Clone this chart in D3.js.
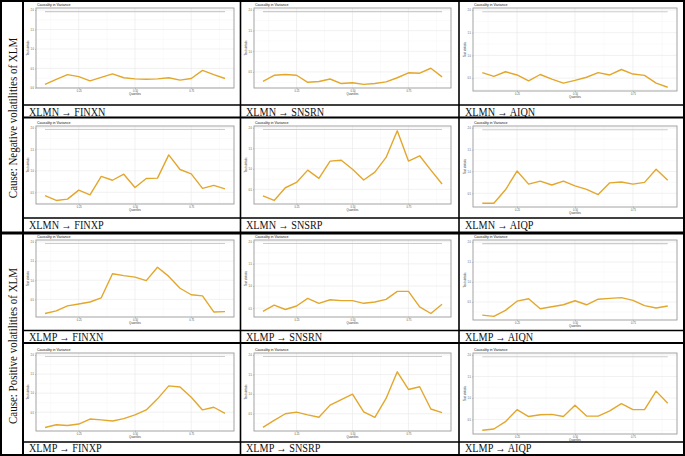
<!DOCTYPE html>
<html><head><meta charset="utf-8">
<script src="https://cdn.jsdelivr.net/npm/d3@7"></script>
<style>body{margin:0;background:#fff} svg{display:block}</style>
</head><body>
<svg id="c" width="685" height="456"></svg>
<script>
// ---------------- DATA ----------------
const quantiles = [0.10,0.15,0.20,0.25,0.30,0.35,0.40,0.45,0.50,0.55,0.60,0.65,0.70,0.75,0.80,0.85,0.90];
const criticalValue = 1.96;
const xTickValues = [0.25,0.50,0.75];
const yTickValues = [0.0,0.5,1.0,1.5,2.0];
const groupLabels = ["Cause: Negative volatilities of XLM","Cause: Positive volatilities of XLM"];
const panelLabels = ["XLMN → FINXN","XLMN → SNSRN","XLMN → AIQN",
                     "XLMN → FINXP","XLMN → SNSRP","XLMN → AIQP",
                     "XLMP → FINXN","XLMP → SNSRN","XLMP → AIQN",
                     "XLMP → FINXP","XLMP → SNSRP","XLMP → AIQP"];
const xlmnFinxn = [0.09,0.22,0.34,0.29,0.18,0.27,0.36,0.26,0.23,0.22,0.23,0.26,0.20,0.24,0.45,0.34,0.24];
const xlmnSnsrn = [0.27,0.42,0.44,0.42,0.25,0.27,0.33,0.22,0.24,0.20,0.22,0.26,0.36,0.48,0.47,0.59,0.38];
const xlmnAiqn  = [0.62,0.54,0.64,0.57,0.44,0.58,0.48,0.39,0.45,0.52,0.62,0.57,0.69,0.59,0.56,0.39,0.30];
const xlmnFinxp = [0.42,0.31,0.34,0.55,0.44,0.87,0.78,0.92,0.61,0.82,0.83,1.37,1.03,0.93,0.59,0.66,0.58];
const xlmnSnsrp = [0.34,0.23,0.54,0.67,0.97,0.77,1.19,1.21,0.99,0.73,0.92,1.28,1.93,1.19,1.32,0.97,0.63];
const xlmnAiqp  = [0.27,0.27,0.58,1.01,0.71,0.78,0.69,0.78,0.67,0.59,0.47,0.74,0.76,0.71,0.75,1.05,0.80];
const xlmpFinxn = [0.13,0.20,0.33,0.38,0.43,0.54,1.17,1.12,1.08,0.99,1.34,1.10,0.79,0.62,0.59,0.17,0.18];
const xlmpSnsrn = [0.43,0.57,0.47,0.55,0.72,0.61,0.69,0.67,0.67,0.61,0.64,0.70,0.88,0.88,0.53,0.38,0.59];
const xlmpAiqn  = [0.17,0.14,0.29,0.52,0.58,0.33,0.38,0.43,0.53,0.43,0.57,0.59,0.61,0.54,0.41,0.35,0.40];
const xlmpFinxp = [0.10,0.17,0.15,0.19,0.32,0.30,0.27,0.33,0.43,0.56,0.85,1.19,1.16,0.89,0.56,0.63,0.47];
const xlmpSnsrp = [0.15,0.33,0.50,0.54,0.47,0.41,0.72,0.86,1.00,0.55,0.41,0.89,1.57,1.12,1.19,0.62,0.53];
const xlmpAiqp  = [0.25,0.28,0.45,0.73,0.57,0.61,0.62,0.57,0.83,0.58,0.58,0.70,0.87,0.73,0.73,1.16,0.88];
const panelSeries = [xlmnFinxn,xlmnSnsrn,xlmnAiqn,xlmnFinxp,xlmnSnsrp,xlmnAiqp,
                     xlmpFinxn,xlmpSnsrn,xlmpAiqn,xlmpFinxp,xlmpSnsrp,xlmpAiqp];

// ---------------- LAYOUT ----------------
const W = 685, H = 456;
const colPanelX = [[36,234],[254,451],[473,677]];
const colExtraBottom = [0,0,3];
const rowPanelY = [[8,88],[126,204],[240,317],[353,431]];
const colLabelX = [29,246,465];
const rowLabelBaseline = [115.5,229,341,452];
const lineColor = "#e3a72c";
const serif = "Liberation Serif, Times New Roman, serif";
const sans = "Liberation Sans, Arial, sans-serif";

const svg = d3.select("#c");
svg.append("rect").attr("width",W).attr("height",H).attr("fill","#fff");

const ext = d3.extent(quantiles);
const xpad = (ext[1]-ext[0])*0.05;

panelSeries.forEach((vals,i)=>{
  const r = Math.floor(i/3), c = i%3;
  const [px0,px1] = colPanelX[c];
  const py0 = rowPanelY[r][0], py1 = rowPanelY[r][1] + colExtraBottom[c];
  const x = d3.scaleLinear().domain([ext[0]-xpad, ext[1]+xpad]).range([px0,px1]);
  const lo = Math.min(d3.min(vals), criticalValue), hi = Math.max(d3.max(vals), criticalValue);
  const pad = (hi-lo)*0.05;
  const y = d3.scaleLinear().domain([lo-pad, hi+pad]).range([py1,py0]);
  const g = svg.append("g");
  const yMajor = yTickValues.filter(v=>v>=y.domain()[0] && v<=y.domain()[1]);
  const yMinor = d3.range(-0.25,2.3,0.5).filter(v=>v>=y.domain()[0] && v<=y.domain()[1]);
  const xMinor = [0.125,0.375,0.625,0.875];
  g.selectAll(".ymn").data(yMinor).join("line").attr("x1",px0).attr("x2",px1)
    .attr("y1",d=>y(d)).attr("y2",d=>y(d)).attr("stroke","#f3f3f3").attr("stroke-width",0.4);
  g.selectAll(".xmn").data(xMinor).join("line").attr("y1",py0).attr("y2",py1)
    .attr("x1",d=>x(d)).attr("x2",d=>x(d)).attr("stroke","#f3f3f3").attr("stroke-width",0.4);
  g.selectAll(".ymj").data(yMajor).join("line").attr("x1",px0).attr("x2",px1)
    .attr("y1",d=>y(d)).attr("y2",d=>y(d)).attr("stroke","#e8e8e8").attr("stroke-width",0.6);
  g.selectAll(".xmj").data(xTickValues).join("line").attr("y1",py0).attr("y2",py1)
    .attr("x1",d=>x(d)).attr("x2",d=>x(d)).attr("stroke","#e8e8e8").attr("stroke-width",0.6);
  g.append("path").datum(quantiles)
    .attr("d", d3.line().x(d=>x(d)).y(()=>y(criticalValue)))
    .attr("fill","none").attr("stroke","#cccccc").attr("stroke-width",1.1);
  g.append("path").datum(quantiles.map((q,k)=>[q,vals[k]]))
    .attr("d", d3.line().x(d=>x(d[0])).y(d=>y(d[1])))
    .attr("fill","none").attr("stroke",lineColor).attr("stroke-width",1.4).attr("stroke-linejoin","round");
  g.append("rect").attr("x",px0).attr("y",py0).attr("width",px1-px0).attr("height",py1-py0)
    .attr("fill","none").attr("stroke","#9a9a9a").attr("stroke-width",0.9);
  const ya = g.append("g").attr("transform",`translate(${px0},0)`)
    .call(d3.axisLeft(y).tickValues(yMajor).tickFormat(d3.format(".1f")).tickSize(1).tickPadding(1));
  const xa = g.append("g").attr("transform",`translate(0,${py1})`)
    .call(d3.axisBottom(x).tickValues(xTickValues).tickFormat(d3.format(".2f")).tickSize(1).tickPadding(0.8));
  [ya,xa].forEach(a=>{
    a.select(".domain").remove();
    a.selectAll(".tick line").attr("stroke","#888").attr("stroke-width",0.4);
    a.selectAll("text").attr("font-family",sans).attr("font-size",2.6).attr("fill","#555");
  });
  g.append("text").attr("x",(px0+px1)/2).attr("y",py1+6.5).attr("text-anchor","middle")
    .attr("font-family",sans).attr("font-size",2.8).attr("fill","#333").text("Quantiles");
  g.append("text").attr("transform",`translate(${px0-7},${(py0+py1)/2}) rotate(-90)`).attr("text-anchor","middle")
    .attr("font-family",sans).attr("font-size",2.8).attr("fill","#333").text("Test statistic");
  g.append("text").attr("x",px0+1).attr("y",py0-2).attr("font-family",sans)
    .attr("font-size",3.6).attr("fill","#111").text("Causality in Variance");
  svg.append("text").attr("transform",`translate(${colLabelX[c]},${rowLabelBaseline[r]}) scale(0.85,1)`)
    .attr("font-family",serif).attr("font-size",12).attr("fill","#111")
    .text(panelLabels[i]);
});

const groupCenters = [118,346];
groupLabels.forEach((t,k)=>{
  svg.append("text").attr("transform",`translate(16.8,${groupCenters[k]}) rotate(-90) scale(0.915,1)`).attr("text-anchor","middle")
    .attr("font-family",serif).attr("font-size",12).attr("fill","#111").text(t);
});

const T = svg.append("g").attr("stroke","#000").attr("fill","none");
T.append("rect").attr("x",1).attr("y",1).attr("width",W-2).attr("height",H-2).attr("stroke-width",2);
T.append("line").attr("x1",23).attr("x2",23).attr("y1",0).attr("y2",H).attr("stroke-width",2);
[240.5,459].forEach(xv=>T.append("line").attr("x1",xv).attr("x2",xv).attr("y1",0).attr("y2",H).attr("stroke-width",1.6));
[105,218,330.5,442].forEach(yv=>T.append("line").attr("x1",23).attr("x2",W).attr("y1",yv).attr("y2",yv).attr("stroke-width",1.4));
[117.5,343].forEach(yv=>T.append("line").attr("x1",23).attr("x2",W).attr("y1",yv).attr("y2",yv).attr("stroke-width",2));
T.append("line").attr("x1",0).attr("x2",W).attr("y1",233).attr("y2",233).attr("stroke-width",3);
</script>
</body></html>
